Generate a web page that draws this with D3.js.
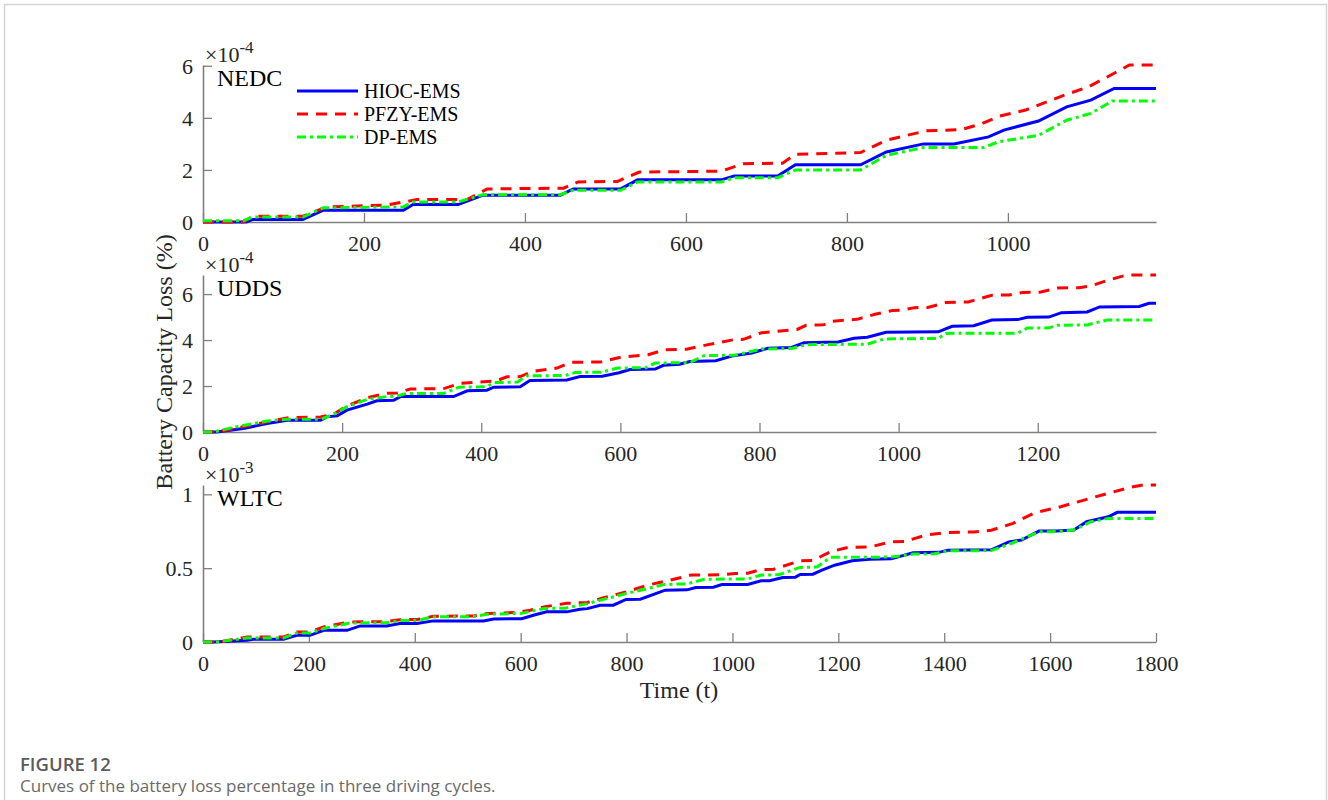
<!DOCTYPE html>
<html>
<head>
<meta charset="utf-8">
<script src="https://cdn.jsdelivr.net/npm/d3@7"></script>
<style>
  body { margin: 0; background: #fff; }
  svg { display: block; }
</style>
</head>
<body>
<script>
// Driving cycles, one panel each.
var cycles = ["NEDC", "UDDS", "WLTC"]
  , timeEnd = [1184, 1370, 1800]
  , xTicks = [
      [0, 200, 400, 600, 800, 1000]
    , [0, 200, 400, 600, 800, 1000, 1200]
    , [0, 200, 400, 600, 800, 1000, 1200, 1400, 1600, 1800]
  ]
  , yTicks = [[0, 2, 4, 6], [0, 2, 4, 6], [0, 0.5, 1]]
  , exponents = ["-4", "-4", "-3"]
  , seriesNames = ["HIOC-EMS", "PFZY-EMS", "DP-EMS"]
;

// Battery capacity loss, [time (s), loss in units of the panel exponent].
var nedcHIOC = [[0,0],[54,0],[62,0.1],[124,0.1],[149,0.45],[249,0.45],[261,0.67],[317,0.67],[348,1.03],[444,1.03],[460,1.27],[519,1.27],[540,1.62],[644,1.62],[660,1.77],[714,1.77],[736,2.2],[817,2.2],[849,2.69],[895,3.0],[933,3.0],[976,3.27],[995,3.53],[1038,3.88],[1073,4.42],[1103,4.68],[1132,5.13],[1184,5.13]]
  , nedcPFZY = [[0,0],[50,0],[62,0.22],[124,0.22],[154,0.58],[228,0.65],[266,0.86],[328,0.86],[353,1.27],[448,1.3],[466,1.54],[515,1.56],[542,1.92],[644,1.95],[671,2.24],[720,2.26],[736,2.6],[817,2.67],[849,3.14],[898,3.5],[942,3.55],[968,3.78],[990,4.07],[1022,4.3],[1070,4.87],[1100,5.19],[1124,5.58],[1151,6.03],[1184,6.03]]
  , nedcDP = [[0,0.05],[50,0.05],[62,0.19],[124,0.19],[149,0.54],[249,0.58],[261,0.77],[317,0.77],[348,1.05],[444,1.05],[460,1.22],[519,1.22],[540,1.54],[644,1.54],[660,1.7],[714,1.7],[736,2.0],[817,2.0],[849,2.56],[895,2.86],[970,2.86],[988,3.08],[1038,3.33],[1073,3.91],[1103,4.17],[1130,4.65],[1184,4.65]]
  , uddsHIOC = [[0,0],[20,0],[58,0.15],[92,0.37],[121,0.51],[169,0.51],[178,0.66],[193,0.7],[207,0.95],[236,1.21],[250,1.36],[274,1.38],[284,1.54],[360,1.54],[380,1.79],[408,1.82],[418,1.95],[456,1.97],[470,2.24],[523,2.26],[542,2.41],[574,2.43],[598,2.58],[614,2.72],[650,2.74],[662,2.9],[685,2.95],[700,3.07],[737,3.1],[760,3.3],[789,3.44],[812,3.64],[846,3.68],[864,3.88],[913,3.92],[936,4.08],[955,4.12],[982,4.34],[1057,4.36],[1077,4.6],[1108,4.62],[1134,4.87],[1171,4.89],[1185,4.99],[1216,5.0],[1234,5.19],[1271,5.22],[1289,5.44],[1346,5.46],[1360,5.6],[1370,5.6]]
  , uddsPFZY = [[0,0],[20,0],[44,0.15],[92,0.44],[125,0.63],[169,0.65],[188,0.78],[207,1.13],[236,1.49],[264,1.68],[279,1.7],[298,1.87],[346,1.89],[370,2.12],[421,2.22],[437,2.4],[456,2.41],[473,2.63],[509,2.78],[528,3.03],[572,3.05],[602,3.26],[640,3.36],[664,3.58],[695,3.6],[726,3.8],[764,4.02],[777,4.03],[803,4.32],[854,4.46],[867,4.64],[892,4.66],[905,4.82],[940,4.9],[966,5.12],[992,5.29],[1004,5.3],[1023,5.41],[1042,5.42],[1068,5.63],[1100,5.66],[1134,5.95],[1159,5.96],[1178,6.07],[1203,6.08],[1228,6.26],[1259,6.28],[1277,6.36],[1303,6.62],[1328,6.83],[1370,6.83]]
  , uddsDP = [[0,0],[15,0],[44,0.2],[92,0.48],[121,0.55],[169,0.55],[188,0.78],[207,1.1],[236,1.42],[264,1.54],[279,1.56],[293,1.68],[346,1.68],[368,1.95],[408,1.97],[418,2.15],[452,2.17],[465,2.44],[521,2.46],[535,2.59],[572,2.6],[596,2.78],[637,2.8],[650,3.0],[700,3.02],[720,3.32],[764,3.34],[803,3.61],[846,3.63],[867,3.8],[955,3.82],[980,4.05],[1057,4.07],[1068,4.29],[1171,4.3],[1185,4.52],[1216,4.53],[1228,4.64],[1271,4.66],[1300,4.87],[1370,4.87]]
  , wltcHIOC = [[0,0],[20,0],[83,0.012],[95,0.018],[152,0.018],[177,0.045],[202,0.045],[228,0.079],[272,0.079],[297,0.109],[347,0.109],[372,0.125],[404,0.125],[435,0.143],[530,0.143],[549,0.156],[602,0.158],[624,0.181],[649,0.204],[687,0.204],[712,0.222],[726,0.226],[750,0.249],[775,0.249],[799,0.288],[826,0.29],[873,0.351],[914,0.353],[931,0.369],[964,0.371],[980,0.389],[1029,0.39],[1054,0.414],[1070,0.415],[1095,0.437],[1119,0.439],[1128,0.457],[1152,0.459],[1169,0.486],[1193,0.52],[1226,0.55],[1259,0.561],[1300,0.563],[1341,0.604],[1390,0.607],[1407,0.622],[1489,0.624],[1522,0.678],[1546,0.69],[1579,0.751],[1612,0.752],[1645,0.758],[1669,0.814],[1710,0.848],[1727,0.878],[1800,0.878]]
  , wltcPFZY = [[0,0],[30,0],[83,0.034],[152,0.034],[177,0.068],[202,0.068],[228,0.102],[278,0.136],[347,0.138],[372,0.151],[404,0.152],[435,0.174],[511,0.176],[536,0.193],[593,0.2],[618,0.215],[644,0.238],[687,0.262],[726,0.268],[758,0.301],[799,0.339],[840,0.385],[882,0.419],[922,0.453],[980,0.455],[1005,0.464],[1029,0.466],[1054,0.491],[1078,0.493],[1128,0.55],[1152,0.552],[1185,0.611],[1218,0.64],[1259,0.643],[1300,0.678],[1325,0.68],[1366,0.724],[1407,0.742],[1456,0.745],[1489,0.757],[1530,0.803],[1571,0.875],[1620,0.916],[1669,0.966],[1710,1.007],[1751,1.047],[1775,1.063],[1800,1.063]]
  , wltcDP = [[0,0],[25,0],[83,0.027],[152,0.027],[177,0.061],[202,0.061],[228,0.091],[278,0.129],[347,0.13],[372,0.145],[404,0.146],[435,0.17],[511,0.172],[536,0.188],[602,0.194],[644,0.227],[684,0.229],[726,0.26],[758,0.29],[799,0.328],[840,0.362],[873,0.391],[914,0.393],[947,0.425],[1029,0.427],[1054,0.453],[1087,0.455],[1128,0.505],[1160,0.508],[1185,0.573],[1300,0.575],[1341,0.595],[1382,0.597],[1407,0.617],[1489,0.619],[1530,0.672],[1579,0.746],[1612,0.748],[1645,0.758],[1677,0.814],[1710,0.837],[1800,0.837]]
;

var panelSeries = [
    [nedcHIOC, nedcPFZY, nedcDP]
  , [uddsHIOC, uddsPFZY, uddsDP]
  , [wltcHIOC, wltcPFZY, wltcDP]
];

// Layout and styling.
var width = 1328
  , height = 800
  , plotLeft = 203
  , plotRight = 1156
  , panelTop = [65, 275, 485]
  , panelHeight = 157
  , axisColor = "#808080"
  , textColor = "#262626"
  , serif = "'Liberation Serif', 'Times New Roman', serif"
  , sans = "'Open Sans', 'Noto Sans', sans-serif"
  , styles = [
      { color: "#0000ff", dash: null }
    , { color: "#ff0000", dash: "11,8" }
    , { color: "#00ff00", dash: "9,4,3,4" }
  ]
;

var svg = d3.select("body").append("svg")
    .attr("width", width)
    .attr("height", height)
;

// Card frame.
svg.append("rect")
    .attr("x", 4.5).attr("y", 4.5)
    .attr("width", 1322).attr("height", 900)
    .attr("fill", "none")
    .attr("stroke", "#d4d4d4")
    .attr("stroke-width", 1.5)
;

cycles.forEach(function (name, i) { render_panel(i); });
render_legend();
render_labels();

function render_panel(i) {
  var data = panelSeries[i]
    , bottom = panelTop[i] + panelHeight
    , yMax = d3.max(data, function (s) { return d3.max(s, function (d) { return d[1]; }); })
    , x = d3.scaleLinear().domain([0, timeEnd[i]]).range([plotLeft, plotRight])
    , y = d3.scaleLinear().domain([0, yMax]).range([bottom, panelTop[i]])
    , g = svg.append("g")
  ;

  var xAxisG = g.append("g")
      .attr("transform", "translate(0," + bottom + ")")
      .call(d3.axisBottom(x)
          .tickValues(xTicks[i])
          .tickSizeInner(-9)
          .tickSizeOuter(0)
          .tickFormat(function (d) { return String(d); }))
  ;
  var yAxisG = g.append("g")
      .attr("transform", "translate(" + plotLeft + ",0)")
      .call(d3.axisLeft(y)
          .tickValues(yTicks[i])
          .tickSizeInner(-9)
          .tickSizeOuter(0)
          .tickFormat(function (d) { return String(d); }))
  ;
  [xAxisG, yAxisG].forEach(function (a) {
    a.select(".domain").attr("stroke", axisColor).attr("stroke-width", 1.6);
    a.selectAll(".tick line").attr("stroke", axisColor).attr("stroke-width", 1.3);
    a.selectAll(".tick text")
        .attr("fill", textColor)
        .style("font-family", serif)
        .style("font-size", "22px");
  });
  xAxisG.selectAll(".tick text").attr("y", 29).attr("dy", 0);
  yAxisG.selectAll(".tick text").attr("x", -10).attr("dy", "0.33em");

  // Curves
  var line = d3.line()
      .x(function (d) { return x(d[0]); })
      .y(function (d) { return y(d[1]); })
  ;
  g.selectAll("path.curve")
      .data(data)
    .enter().append("path")
      .attr("class", "curve")
      .attr("d", line)
      .attr("fill", "none")
      .attr("stroke", function (d, k) { return styles[k].color; })
      .attr("stroke-width", 3)
      .attr("stroke-dasharray", function (d, k) { return styles[k].dash; })
  ;

  // Exponent marker and cycle name
  var ex = g.append("text")
      .attr("x", 205)
      .attr("y", panelTop[i] - 3.5)
      .attr("fill", textColor)
      .style("font-family", serif)
      .style("font-size", "22px")
  ;
  ex.append("tspan").text("\u00d710");
  ex.append("tspan")
      .attr("dy", -9)
      .style("font-size", "17px")
      .text(exponents[i]);

  g.append("text")
      .attr("x", 217)
      .attr("y", panelTop[i] + 21)
      .attr("fill", "#000")
      .style("font-family", serif)
      .style("font-size", "24px")
      .text(cycles[i]);
} // render_panel()

function render_legend() {
  var legendG = svg.append("g").attr("transform", "translate(297, 91)");
  var items = legendG.selectAll("g")
      .data(seriesNames)
    .enter().append("g")
      .attr("transform", function (d, k) { return "translate(0," + (k * 23) + ")"; })
  ;
  items.append("line")
      .attr("x1", 0).attr("x2", 61)
      .attr("stroke", function (d, k) { return styles[k].color; })
      .attr("stroke-width", 3)
      .attr("stroke-dasharray", function (d, k) { return styles[k].dash; })
  ;
  items.append("text")
      .attr("x", 67)
      .attr("dy", "0.33em")
      .attr("fill", "#000")
      .style("font-family", serif)
      .style("font-size", "20px")
      .text(function (d) { return d; })
  ;
} // render_legend()

function render_labels() {
  svg.append("text")
      .attr("transform", "translate(172," + 362 + ") rotate(-90)")
      .attr("text-anchor", "middle")
      .attr("fill", textColor)
      .style("font-family", serif)
      .style("font-size", "24px")
      .text("Battery Capacity Loss (%)");

  svg.append("text")
      .attr("x", 679)
      .attr("y", 698)
      .attr("text-anchor", "middle")
      .attr("fill", textColor)
      .style("font-family", serif)
      .style("font-size", "24px")
      .text("Time (t)");

  svg.append("text")
      .attr("x", 20)
      .attr("y", 771)
      .attr("fill", "#5c5c5c")
      .style("font-family", sans)
      .style("font-weight", 600)
      .style("font-size", "18.5px")
      .text("FIGURE 12");

  svg.append("text")
      .attr("x", 20)
      .attr("y", 792)
      .attr("fill", "#6a6a6a")
      .style("font-family", sans)
      .style("font-size", "17px")
      .text("Curves of the battery loss percentage in three driving cycles.");
} // render_labels()
</script>
</body>
</html>
